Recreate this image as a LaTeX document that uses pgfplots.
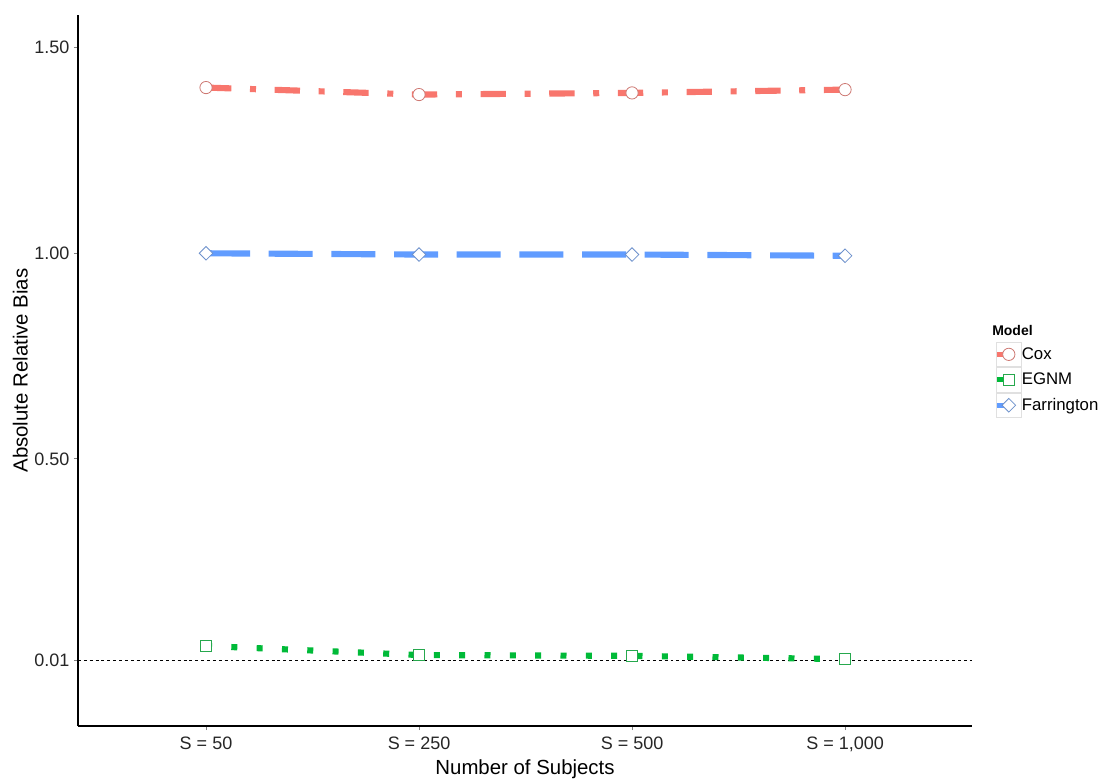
\documentclass[border=0pt]{standalone}
\usepackage{fontspec}
\setmainfont{Liberation Sans}
\usepackage{pgfplots}
\pgfplotsset{compat=1.18}
\definecolor{coxc}{HTML}{F8766D}
\definecolor{egnmc}{HTML}{00BA38}
\definecolor{farc}{HTML}{619CFF}
\pgfplotsset{
  keyimg/.style={legend image code/.code={
    \draw[draw=black!12, line width=0.5pt, solid, fill=white, mark=none] (0pt,-9.3pt) rectangle (19pt,9.3pt);
    \draw[##1, solid, mark=none, line width=4pt] (0.6pt,0pt) -- (9.5pt,0pt);
    \draw[##1, solid] plot coordinates {(9.5pt,0pt)};
  }}
}
\begin{document}
\begin{tikzpicture}
\begin{axis}[
  scale only axis, width=670.5pt, height=533.25pt,
  xmin=-0.601, xmax=3.596, ymin=-0.1496, ymax=1.5795,
  clip=false,
  axis lines*=left,
  axis line style={black, line width=0.8pt},
  xtick={0,1,2,3},
  xticklabels={{S = 50},{S = 250},{S = 500},{S = 1,000}},
  ytick={0.01,0.5,1,1.5},
  yticklabels={0.01,0.50,1.00,1.50},
  tick align=outside, major tick length=3pt,
  tick style={black!50, line width=0.6pt},
  tick label style={font=\fontsize{13.5}{15}\selectfont, text=black!85},
  xticklabel style={yshift=-2pt},
  /pgf/number format/assume math mode=true,
  xlabel={Number of Subjects}, ylabel={Absolute Relative Bias},
  label style={font=\fontsize{15.3}{17}\selectfont, text=black},
  xlabel style={yshift=1pt},
  ylabel style={yshift=-2pt},
  legend cell align=left,
  legend style={at={(1,0.541)}, anchor=north west, xshift=16.5pt,
    draw=none, fill=none, font=\fontsize{12.6}{14}\selectfont,
    row sep=0pt, inner xsep=0pt, inner ysep=0pt,
    /tikz/every even column/.append style={column sep=7pt},
    nodes={inner sep=0pt, minimum height=18.6pt}},
]
\coordinate (ll) at (rel axis cs:0,0);
\coordinate (ur) at (rel axis cs:1,1);

\addplot[forget plot, black, line width=0.6pt, dash pattern=on 2.2pt off 2.2pt]
  coordinates {(-0.601,0.01) (3.596,0.01)};

\addplot[keyimg, coxc, line width=4.6pt, dash pattern=on 19pt off 14pt on 4.5pt off 14pt,
  mark=*, mark size=4.6pt, mark options={solid, fill=white, draw=coxc!65!gray, line width=0.6pt}]
  coordinates {(0,1.403) (1,1.386) (2,1.390) (3,1.398)};
\addlegendentry{Cox}

\addplot[keyimg, egnmc, line width=4.6pt, dash pattern=on 4.5pt off 14.5pt,
  mark=square*, mark size=4.3pt, mark options={solid, fill=white, draw=egnmc!70!gray, line width=0.6pt}]
  coordinates {(0,0.045) (1,0.023) (2,0.021) (3,0.013)};
\addlegendentry{EGNM}

\addplot[keyimg, farc, line width=4.6pt, dash pattern=on 33pt off 14pt,
  mark=square*, mark size=3.6pt, mark options={solid, rotate=45, fill=white, draw=farc!60!gray, line width=0.6pt}]
  coordinates {(0,1.000) (1,0.997) (2,0.997) (3,0.994)};
\addlegendentry{Farrington}

\node[anchor=south west, inner sep=0pt, font=\bfseries\fontsize{10.5}{12}\selectfont]
  at ([xshift=15pt, yshift=4pt]rel axis cs:1,0.541) {Model};
\end{axis}
\pgfresetboundingbox
\path ([shift={(-58.5pt,-39pt)}]ll) rectangle ([shift={(99.75pt,11.25pt)}]ur);
\end{tikzpicture}
\end{document}
